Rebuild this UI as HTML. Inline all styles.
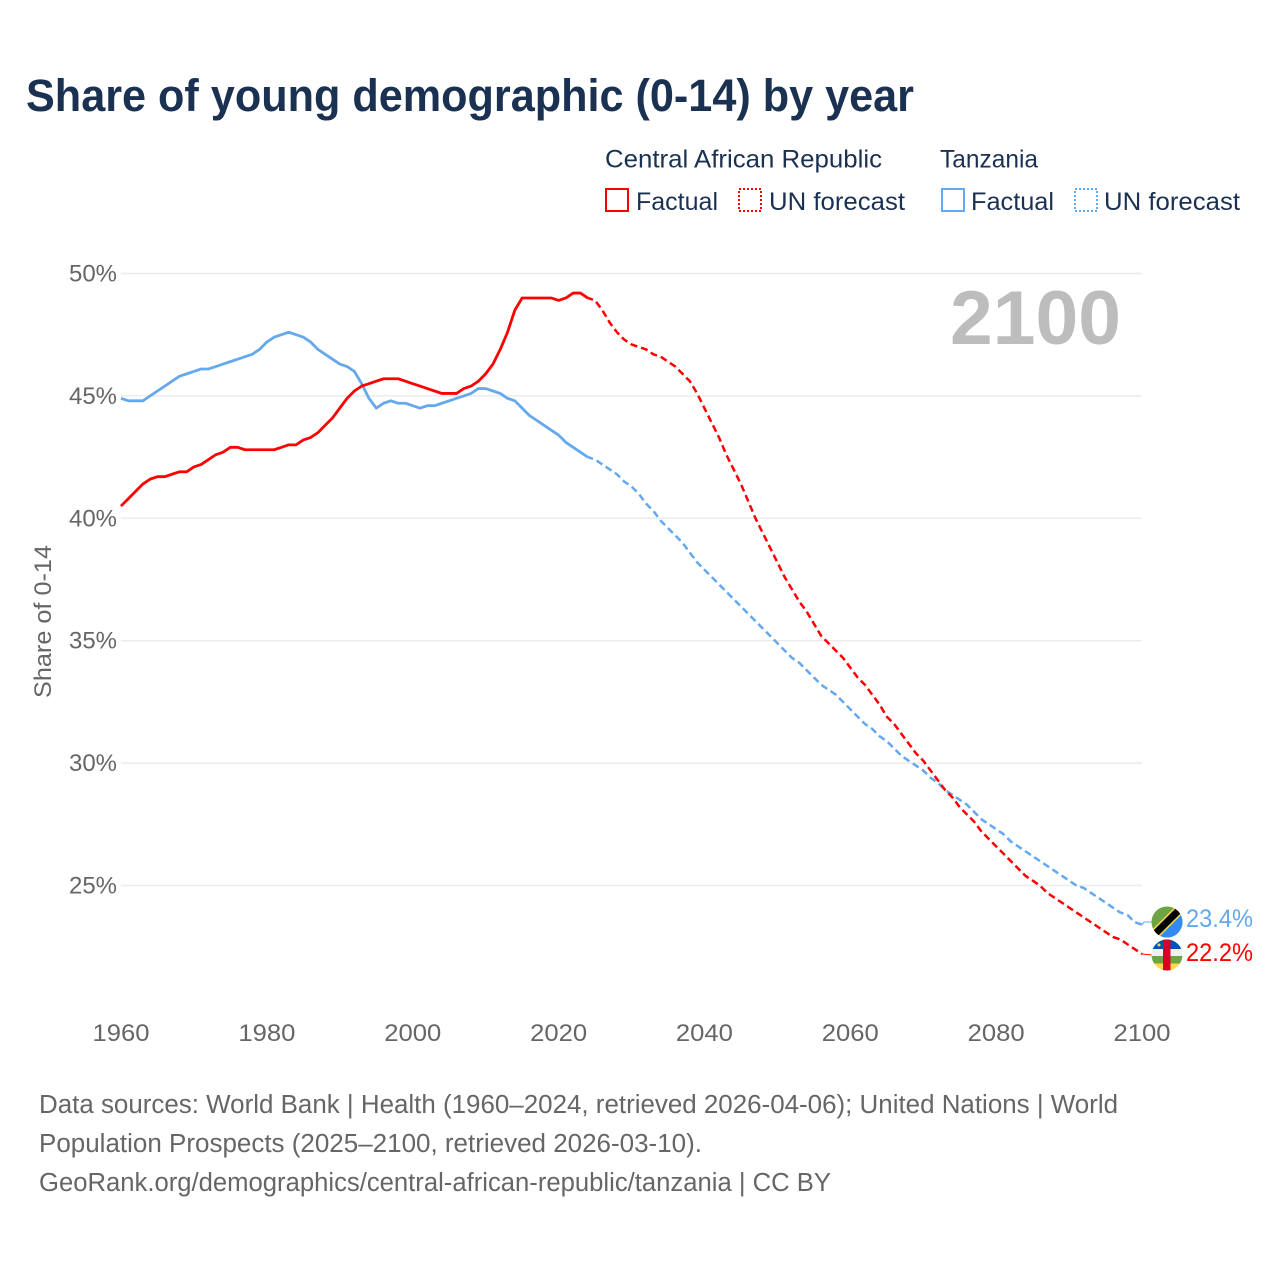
<!DOCTYPE html>
<html lang="en">
<head>
<meta charset="utf-8">
<title>Share of young demographic (0-14) by year</title>
<style>
html,body{margin:0;padding:0;background:#fff;}
svg{display:block;}
text{font-family:"Liberation Sans",sans-serif;}
</style>
</head>
<body>
<svg id="chart" xmlns="http://www.w3.org/2000/svg" width="1280" height="1280" viewBox="0 0 1280 1280">
  <rect x="0" y="0" width="1280" height="1280" fill="#ffffff"/>
  <text x="26" y="111" font-size="45" font-weight="700" fill="#1a3152" textLength="888" lengthAdjust="spacingAndGlyphs">Share of young demographic (0-14) by year</text>

  <g font-size="25" fill="#1a3152">
    <text x="605" y="167.500" textLength="277" lengthAdjust="spacingAndGlyphs">Central African Republic</text>
    <text x="940" y="167.500" textLength="98" lengthAdjust="spacingAndGlyphs">Tanzania</text>
    <rect x="606" y="189" width="22" height="22" fill="none" stroke="#ff0000" stroke-width="2" shape-rendering="crispEdges"/>
    <text x="636" y="210" textLength="82" lengthAdjust="spacingAndGlyphs">Factual</text>
    <rect x="739" y="189" width="22" height="22" fill="none" stroke="#ff0000" stroke-width="2" stroke-dasharray="2,2" shape-rendering="crispEdges"/>
    <text x="769" y="210" textLength="136" lengthAdjust="spacingAndGlyphs">UN forecast</text>
    <rect x="942" y="189" width="22" height="22" fill="none" stroke="#64a9ee" stroke-width="2" shape-rendering="crispEdges"/>
    <text x="971" y="210" textLength="83" lengthAdjust="spacingAndGlyphs">Factual</text>
    <rect x="1075" y="189" width="22" height="22" fill="none" stroke="#64a9ee" stroke-width="2" stroke-dasharray="2,2" shape-rendering="crispEdges"/>
    <text x="1104" y="210" textLength="136" lengthAdjust="spacingAndGlyphs">UN forecast</text>
  </g>

  <g id="grid"></g>
  <g id="yticks"></g>
  <g id="xticks"></g>
  <text transform="translate(51,698) rotate(-90)" font-size="24" fill="#666666" textLength="153" lengthAdjust="spacingAndGlyphs">Share of 0-14</text>
  <text x="950" y="344" font-size="76" font-weight="700" fill="#bdbdbd" textLength="171" lengthAdjust="spacingAndGlyphs">2100</text>

  <g id="series"></g>

  <defs>
    <clipPath id="clip-tz"><circle id="tz-clip-circle" cx="1167" cy="922" r="15.5"/></clipPath>
    <clipPath id="clip-cf"><circle id="cf-clip-circle" cx="1167" cy="955" r="15.5"/></clipPath>
  </defs>
  <g id="flag-tanzania">
    <g clip-path="url(#clip-tz)">
      <rect x="1150" y="905" width="34" height="34" fill="#6da544"/>
      <polygon points="1150,939 1184,905 1184,939" fill="#338af3"/>
      <line x1="1152" y1="937" x2="1182" y2="907" stroke="#ffda44" stroke-width="10"/>
      <line x1="1152" y1="937" x2="1182" y2="907" stroke="#000000" stroke-width="7"/>
    </g>
  </g>
  <g id="flag-car">
    <g clip-path="url(#clip-cf)">
      <rect x="1150" y="938" width="34" height="11" fill="#0052b4"/>
      <rect x="1150" y="949" width="34" height="7" fill="#f0f0f0"/>
      <rect x="1150" y="956" width="34" height="7.5" fill="#6da544"/>
      <rect x="1150" y="963.5" width="34" height="9" fill="#ffda44"/>
      <rect x="1163" y="938" width="7.5" height="34" fill="#d80027"/>
      <circle cx="1159" cy="945" r="1.5" fill="#ffda44"/>
    </g>
  </g>
  <text id="label-tanzania" x="1186" y="927" font-size="25" fill="#64a9ee" textLength="67" lengthAdjust="spacingAndGlyphs"></text>
  <text id="label-car" x="1186" y="961" font-size="25" fill="#ff0000" textLength="67" lengthAdjust="spacingAndGlyphs"></text>

  <g font-size="25.5" fill="#666666">
    <text x="39" y="1113" textLength="1079" lengthAdjust="spacingAndGlyphs">Data sources: World Bank | Health (1960–2024, retrieved 2026-04-06); United Nations | World</text>
    <text x="39" y="1152" textLength="663" lengthAdjust="spacingAndGlyphs">Population Prospects (2025–2100, retrieved 2026-03-10).</text>
    <text x="39" y="1191" textLength="792" lengthAdjust="spacingAndGlyphs">GeoRank.org/demographics/central-african-republic/tanzania | CC BY</text>
  </g>
</svg>
<script>
const xTicks = [1960, 1980, 2000, 2020, 2040, 2060, 2080, 2100];
const yTicks = [50, 45, 40, 35, 30, 25];
const factualStartYear = 1960;
const forecastStartYear = 2024;

const carFactual = [
  40.5,40.8,41.1,41.4,41.6,41.7,41.7,41.8,41.9,41.9,
  42.1,42.2,42.4,42.6,42.7,42.9,42.9,42.8,42.8,42.8,
  42.8,42.8,42.9,43.0,43.0,43.2,43.3,43.5,43.8,44.1,
  44.5,44.9,45.2,45.4,45.5,45.6,45.7,45.7,45.7,45.6,
  45.5,45.4,45.3,45.2,45.1,45.1,45.1,45.3,45.4,45.6,
  45.9,46.3,46.9,47.6,48.5,49.0,49.0,49.0,49.0,49.0,
  48.9,49.0,49.2,49.2,49.0
];
const carForecast = [
  49.0,48.9,48.5,48.0,47.6,47.3,
  47.1,47.0,46.9,46.7,46.6,46.4,46.2,45.9,45.6,45.1,
  44.5,43.9,43.3,42.6,42.0,41.4,40.7,40.0,39.4,38.8,
  38.2,37.6,37.1,36.6,36.2,35.7,35.2,34.9,34.6,34.3,
  33.9,33.5,33.2,32.8,32.4,31.9,31.6,31.2,30.8,30.4,
  30.1,29.7,29.3,28.9,28.6,28.2,27.9,27.6,27.2,26.9,
  26.6,26.3,26.0,25.7,25.4,25.2,25.0,24.7,24.5,24.3,
  24.1,23.9,23.7,23.5,23.3,23.1,22.9,22.8,22.6,22.4,
  22.2
];
const tzaFactual = [
  44.9,44.8,44.8,44.8,45.0,45.2,45.4,45.6,45.8,45.9,
  46.0,46.1,46.1,46.2,46.3,46.4,46.5,46.6,46.7,46.9,
  47.2,47.4,47.5,47.6,47.5,47.4,47.2,46.9,46.7,46.5,
  46.3,46.2,46.0,45.5,44.9,44.5,44.7,44.8,44.7,44.7,
  44.6,44.5,44.6,44.6,44.7,44.8,44.9,45.0,45.1,45.3,
  45.3,45.2,45.1,44.9,44.8,44.5,44.2,44.0,43.8,43.6,
  43.4,43.1,42.9,42.7,42.5
];
const tzaForecast = [
  42.5,42.4,42.2,42.0,41.8,41.5,
  41.3,41.0,40.6,40.3,39.9,39.6,39.3,39.0,38.6,38.2,
  37.9,37.6,37.3,37.0,36.7,36.4,36.1,35.8,35.5,35.2,
  34.9,34.6,34.3,34.1,33.8,33.5,33.2,33.0,32.8,32.5,
  32.2,31.9,31.6,31.4,31.1,30.9,30.6,30.3,30.1,29.9,
  29.7,29.4,29.2,28.9,28.7,28.5,28.3,28.0,27.7,27.5,
  27.3,27.1,26.8,26.6,26.4,26.2,26.0,25.8,25.6,25.4,
  25.2,25.0,24.9,24.7,24.5,24.3,24.1,23.9,23.8,23.5,
  23.4
];

const SVG_NS = 'http://www.w3.org/2000/svg';
function xScale(year) { return 121 + (year - 1960) * 7.293; }
function yScale(value) { return 273.5 + (50 - value) * 24.48; }

function make(tag, attrs, parent) {
  const el = document.createElementNS(SVG_NS, tag);
  for (const key in attrs) el.setAttribute(key, attrs[key]);
  parent.appendChild(el);
  return el;
}

const gridGroup = document.getElementById('grid');
const yTickGroup = document.getElementById('yticks');
const xTickGroup = document.getElementById('xticks');
const seriesGroup = document.getElementById('series');

yTicks.forEach(function (tick) {
  const line = make('line', {x1: 121, x2: 1142, y1: yScale(tick), y2: yScale(tick), stroke: '#ececec', 'stroke-width': 1.5}, gridGroup);
  
  
  const label = make('text', {x: 117, y: yScale(tick) + 8, 'text-anchor': 'end', 'font-size': 24, fill: '#666666', textLength: 48, lengthAdjust: 'spacingAndGlyphs'}, yTickGroup);
  label.textContent = tick + '%';
  
  
});

xTicks.forEach(function (tick) {
  const label = make('text', {x: xScale(tick), y: 1041, 'text-anchor': 'middle', 'font-size': 24, fill: '#666666', textLength: 57, lengthAdjust: 'spacingAndGlyphs'}, xTickGroup);
  label.textContent = tick;
  
  
});

function linePath(values, startYear) {
  return values.map(function (v, i) {
    return (i ? 'L' : 'M') + xScale(startYear + i).toFixed(2) + ' ' + yScale(v).toFixed(2);
  }).join(' ');
}

function drawSeries(values, startYear, color, dashed) {
  const attrs = {d: linePath(values, startYear), fill: 'none', stroke: color, 'stroke-width': dashed ? 2.5 : 2.8, 'stroke-linejoin': 'round'};
  if (dashed) {
    attrs['stroke-dasharray'] = '7,4';
    attrs['stroke-dashoffset'] = '1.5';
  }
  return make('path', attrs, seriesGroup);
}

const tzaFactualLine = drawSeries(tzaFactual, factualStartYear, '#64a9ee', false);


const tzaForecastLine = drawSeries(tzaForecast, forecastStartYear, '#64a9ee', true);


const carFactualLine = drawSeries(carFactual, factualStartYear, '#ff0000', false);


const carForecastLine = drawSeries(carForecast, forecastStartYear, '#ff0000', true);



const tzaLast = tzaForecast[tzaForecast.length - 1];
const carLast = carForecast[carForecast.length - 1];
const endX = xScale(2100);

const tzaConnector = make('path', {d: 'M' + endX + ' ' + yScale(tzaLast) + ' L' + (endX + 2) + ' 922 L1152 922', fill: 'none', stroke: '#64a9ee', 'stroke-width': 1}, seriesGroup);


const carConnector = make('path', {d: 'M' + endX + ' ' + yScale(carLast) + ' L1152 955', fill: 'none', stroke: '#ff0000', 'stroke-width': 1}, seriesGroup);



document.getElementById('label-tanzania').textContent = tzaLast.toFixed(1) + '%';
document.getElementById('label-car').textContent = carLast.toFixed(1) + '%';
</script>
</body>
</html>
